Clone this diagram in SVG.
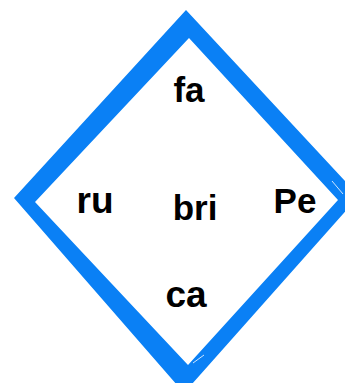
<svg xmlns="http://www.w3.org/2000/svg" width="345" height="383" viewBox="0 0 345 383">
<style>
.frame{fill:#0a80f5;fill-rule:evenodd;stroke:none}
.gap{stroke:#fff;stroke-width:1;opacity:0.8;fill:none}
.lbl{font-family:"Liberation Sans",Arial,sans-serif;font-weight:bold;fill:#000;text-anchor:middle}
</style>
<rect width="345" height="383" fill="#fff"/>
<g id="diamond">
<path class="frame" d="M186,10 L14,198 L184,393 L359,196 Z M189,38 L338,200 L188,365 L35,202 Z"/>
<path class="gap" d="M332,181 L343,194 M193,363 L204,355"/>
</g>
<g id="connectors"></g>
<g id="node-fa"><text class="lbl" x="189" y="102" font-size="35">fa</text></g>
<g id="node-ru"><text class="lbl" x="95" y="213" font-size="37">ru</text></g>
<g id="node-bri"><text class="lbl" x="195" y="220" font-size="35">bri</text></g>
<g id="node-Pe"><text class="lbl" x="295" y="213" font-size="35">Pe</text></g>
<g id="node-ca"><text class="lbl" x="186" y="307" font-size="37">ca</text></g>
</svg>
